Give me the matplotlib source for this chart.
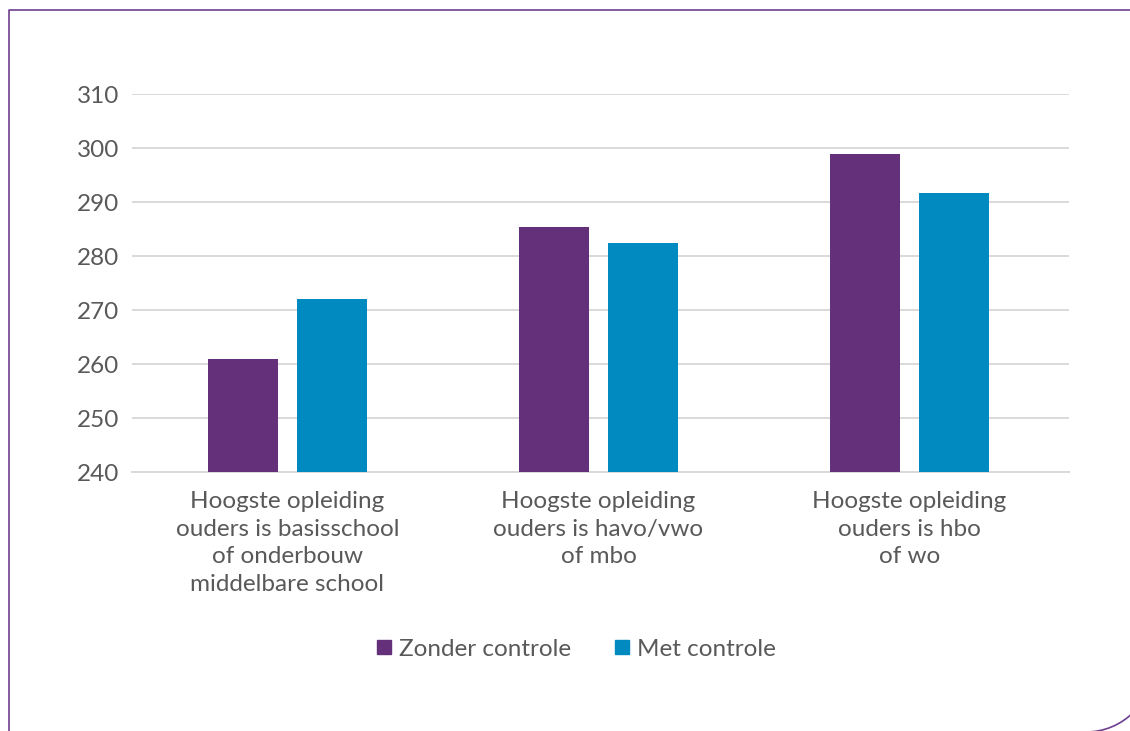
import numpy as np
import matplotlib.pyplot as plt
from matplotlib.patches import Arc
from matplotlib.lines import Line2D

categories = [
    "Hoogste opleiding\nouders is basisschool\nof onderbouw\nmiddelbare school",
    "Hoogste opleiding\nouders is havo/vwo\nof mbo",
    "Hoogste opleiding\nouders is hbo\nof wo",
]
zonder_controle = [261.0, 285.4, 298.9]
met_controle = [272.0, 282.4, 291.7]
series_names = ["Zonder controle", "Met controle"]
yticks = [240, 250, 260, 270, 280, 290, 300, 310]

purple = "#65307a"
blue = "#008abf"
text_col = "#595959"
frame_col = "#6e3f91"

plt.rcParams["font.family"] = ["Lato", "DejaVu Sans"]

W, H = 1130, 731
fig = plt.figure(figsize=(W / 100, H / 100), dpi=100)
ax = fig.add_axes([132 / W, 1 - 472 / H, (1069 - 132) / W, (472 - 94) / H])

x = np.arange(len(categories))
bw = 0.225
off = 0.143
ax.bar(x - off, np.array(zonder_controle) - 240, bottom=240, width=bw, color=purple, zorder=3)
ax.bar(x + off, np.array(met_controle) - 240, bottom=240, width=bw, color=blue, zorder=3)

# gridlines run a few pixels past the last category slot
ax.set_xlim(-0.5, len(categories) - 0.5 + 4 / 311)
ax.set_ylim(240, 310)
ax.set_yticks(yticks)
ax.set_yticklabels([str(t) for t in yticks])
ax.set_xticks(x)
ax.set_xticklabels(categories, linespacing=1.38)
ax.grid(axis="y", color="#d9d9d9", linewidth=1.4, zorder=0)
ax.set_axisbelow(True)
for s in ["top", "right", "left"]:
    ax.spines[s].set_visible(False)
ax.spines["bottom"].set_color("#d9d9d9")
ax.spines["bottom"].set_linewidth(1.4)
ax.tick_params(axis="both", length=0, labelsize=17.5, labelcolor=text_col)
ax.tick_params(axis="y", pad=9)
ax.tick_params(axis="x", pad=14)

handles = [
    Line2D([], [], marker="s", linestyle="none", markersize=10, color=purple),
    Line2D([], [], marker="s", linestyle="none", markersize=10, color=blue),
]
leg = fig.legend(handles, series_names, loc="center", bbox_to_anchor=(574 / W, 1 - 649 / H),
                 ncol=2, frameon=False, fontsize=17.5, handletextpad=0.1, columnspacing=1.6,
                 handlelength=1.0)
for t in leg.get_texts():
    t.set_color(text_col)

# outer frame: left and top edges, rounded corner at bottom right
fig.add_artist(Line2D([8.5 / W, 8.5 / W, 1.0], [0, 1 - 9.5 / H, 1 - 9.5 / H],
                      transform=fig.transFigure, color=frame_col, linewidth=1.2))
fig.add_artist(Arc((1086 / 100, 66 / 100), 134 / 100, 134 / 100, theta1=-90, theta2=0,
                   transform=fig.dpi_scale_trans, color=frame_col, linewidth=1.2))

fig.savefig("out.png", dpi=100)
